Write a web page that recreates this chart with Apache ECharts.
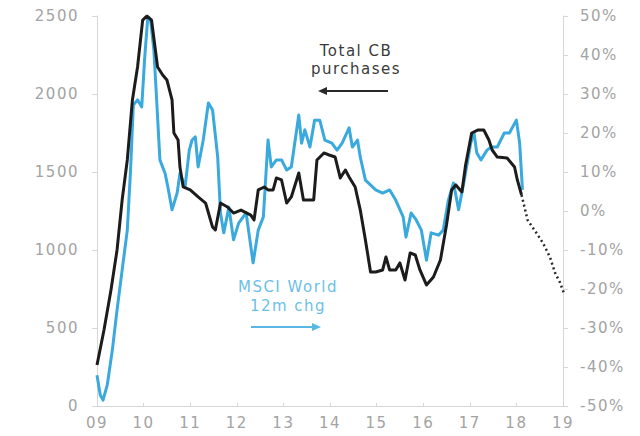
<!DOCTYPE html>
<html>
<head>
<meta charset="utf-8">
<script src="https://cdn.jsdelivr.net/npm/echarts@6/dist/echarts.min.js"></script>
<style>
  html, body { margin: 0; padding: 0; background: #ffffff; }
  #chart { width: 640px; height: 436px; }
  #chart text { letter-spacing: 1.5px; }
</style>
</head>
<body>
<div id="chart"></div>
<script>
// Tick labels for the year axis
const yearTicks = ['09', '10', '11', '12', '13', '14', '15', '16', '17', '18', '19'];

// Total central-bank purchases (left axis), x in decimal years
const cbYears = [2009.00, 2009.15, 2009.30, 2009.43, 2009.54, 2009.65, 2009.76, 2009.87, 2009.98, 2010.07,
  2010.17, 2010.30, 2010.41, 2010.50, 2010.61, 2010.65, 2010.74, 2010.78, 2010.85, 2011.00,
  2011.17, 2011.33, 2011.48, 2011.54, 2011.65, 2011.80, 2011.93, 2012.09, 2012.30, 2012.37,
  2012.46, 2012.59, 2012.67, 2012.78, 2012.85, 2012.96, 2013.07, 2013.17, 2013.33, 2013.43,
  2013.57, 2013.65, 2013.72, 2013.87, 2013.98, 2014.11, 2014.22, 2014.33, 2014.41, 2014.54,
  2014.65, 2014.76, 2014.87, 2014.98, 2015.13, 2015.20, 2015.28, 2015.41, 2015.50, 2015.61,
  2015.72, 2015.83, 2015.93, 2016.07, 2016.22, 2016.37, 2016.50, 2016.61, 2016.70, 2016.83,
  2016.91, 2017.04, 2017.17, 2017.30, 2017.41, 2017.48, 2017.59, 2017.80, 2017.96, 2018.02,
  2018.11];
const cbValues = [263, 487, 744, 1000, 1321, 1577, 1962, 2173, 2474, 2500,
  2474, 2173, 2122, 2090, 1962, 1750, 1705, 1532, 1404, 1385,
  1340, 1301, 1147, 1128, 1301, 1276, 1237, 1256, 1224, 1192,
  1385, 1404, 1385, 1385, 1462, 1449, 1301, 1340, 1494, 1321,
  1321, 1321, 1577, 1622, 1609, 1596, 1462, 1513, 1468, 1404,
  1256, 1064, 859, 859, 872, 955, 872, 872, 917, 808,
  981, 968, 872, 776, 827, 936, 1160, 1385, 1417, 1372,
  1545, 1750, 1769, 1769, 1705, 1641, 1596, 1590, 1532, 1449,
  1353];

// Projected purchases (dotted continuation)
const cbProjYears = [2018.11, 2018.24, 2018.43, 2018.57, 2018.72, 2018.83, 2018.93, 2019.02];
const cbProjValues = [1353, 1192, 1109, 1045, 955, 853, 795, 724];

// MSCI World, 12-month change in % (right axis)
const msciYears = [2009.00, 2009.07, 2009.13, 2009.22, 2009.33, 2009.43, 2009.54, 2009.65, 2009.72, 2009.78,
  2009.87, 2009.96, 2010.02, 2010.09, 2010.15, 2010.22, 2010.28, 2010.35, 2010.46, 2010.52,
  2010.61, 2010.72, 2010.78, 2010.89, 2010.98, 2011.04, 2011.11, 2011.17, 2011.28, 2011.39,
  2011.48, 2011.59, 2011.65, 2011.72, 2011.83, 2011.93, 2012.04, 2012.20, 2012.35, 2012.46,
  2012.57, 2012.67, 2012.74, 2012.85, 2012.96, 2013.07, 2013.17, 2013.33, 2013.39, 2013.46,
  2013.57, 2013.67, 2013.78, 2013.89, 2014.04, 2014.15, 2014.26, 2014.41, 2014.48, 2014.59,
  2014.65, 2014.76, 2014.98, 2015.13, 2015.28, 2015.41, 2015.57, 2015.63, 2015.74, 2015.85,
  2015.96, 2016.07, 2016.17, 2016.33, 2016.43, 2016.54, 2016.65, 2016.76, 2016.87, 2017.02,
  2017.09, 2017.15, 2017.24, 2017.37, 2017.46, 2017.59, 2017.74, 2017.85, 2018.00, 2018.07,
  2018.13];
const msciValues = [-42.1, -47.2, -48.5, -44.6, -35.6, -25.4, -15.1, -4.9, 10.5, 27.2,
  28.5, 26.7, 38.7, 49.7, 49.0, 41.3, 28.5, 13.1, 9.7, 6.2,
  0.3, 4.6, 9.7, 6.2, 15.6, 18.2, 19.0, 11.3, 18.2, 27.7,
  25.9, 13.8, -0.5, -5.6, 1.0, -7.4, -3.1, -0.5, -13.3, -4.9,
  -1.5, 18.2, 11.3, 13.1, 13.1, 10.5, 11.3, 24.6, 17.4, 20.8,
  16.4, 23.3, 23.3, 18.2, 17.4, 15.6, 17.4, 21.3, 16.4, 18.2,
  13.8, 7.9, 5.4, 4.6, 5.4, 2.8, -1.5, -6.7, -0.5, -2.3,
  -4.9, -12.6, -5.6, -6.2, -4.9, 2.8, 7.2, 0.3, 7.2, 17.4,
  20.0, 14.9, 13.1, 15.6, 16.4, 16.4, 20.0, 20.0, 23.3, 17.4,
  5.4];

const pairs = (xs, ys) => xs.map((x, i) => [x, ys[i]]);

const grey = '#a3a3a3';
const axisGrey = '#d6d6d6';
const blue = '#3aa9de';
const labelFont = { color: grey, fontSize: 15, fontFamily: 'DejaVu Sans' };

const chart = echarts.init(document.getElementById('chart'), null, { renderer: 'svg' });

chart.setOption({
  animation: false,
  backgroundColor: '#ffffff',
  grid: { left: 97, right: 77, top: 16, bottom: 30, containLabel: false },
  xAxis: {
    type: 'value',
    min: 2009, max: 2019, interval: 1,
    axisLine: { show: true, lineStyle: { color: axisGrey, width: 1 } },
    axisTick: { show: true, length: 3, inside: true, lineStyle: { color: axisGrey } },
    splitLine: { show: false },
    axisLabel: Object.assign({}, labelFont, {
      margin: 9,
      formatter: v => yearTicks[Math.round(v - 2009)]
    })
  },
  yAxis: [
    {
      type: 'value', position: 'left',
      min: 0, max: 2500, interval: 500,
      axisLine: { show: true, lineStyle: { color: axisGrey } },
      axisTick: { show: true, length: 5, lineStyle: { color: axisGrey } },
      splitLine: { show: false },
      axisLabel: Object.assign({}, labelFont, { margin: 18, formatter: v => String(v) })
    },
    {
      type: 'value', position: 'right',
      min: -50, max: 50, interval: 10,
      axisLine: { show: true, lineStyle: { color: axisGrey } },
      axisTick: { show: true, length: 5, lineStyle: { color: axisGrey } },
      splitLine: { show: false },
      axisLabel: Object.assign({}, labelFont, { margin: 17, formatter: v => v + '%' })
    }
  ],
  series: [
    {
      name: 'MSCI World 12m chg', type: 'line', yAxisIndex: 1,
      data: pairs(msciYears, msciValues),
      showSymbol: false, z: 2,
      lineStyle: { color: blue, width: 3, join: 'round' }
    },
    {
      name: 'Total CB purchases', type: 'line', yAxisIndex: 0,
      data: pairs(cbYears, cbValues),
      showSymbol: false, z: 3,
      lineStyle: { color: '#1c1c1c', width: 3, join: 'round' }
    },
    {
      name: 'Total CB purchases projection', type: 'line', yAxisIndex: 0,
      data: pairs(cbProjYears, cbProjValues),
      showSymbol: false, z: 3,
      lineStyle: { color: '#2a2a2a', width: 2.5, type: [2, 3] }
    }
  ],
  graphic: [
    {
      type: 'text', x: 356, y: 42,
      style: {
        text: 'Total CB\npurchases', fill: '#3a3a3a',
        font: '15px "DejaVu Sans"', align: 'center', lineHeight: 18
      }
    },
    {
      type: 'group', x: 318, y: 86,
      children: [
        { type: 'line', shape: { x1: 4, y1: 5, x2: 70, y2: 5 }, style: { stroke: '#2a2a2a', lineWidth: 2 } },
        { type: 'polygon', shape: { points: [[0, 5], [9, 1], [9, 9]] }, style: { fill: '#2a2a2a' } }
      ]
    },
    {
      type: 'text', x: 288, y: 277,
      style: {
        text: 'MSCI World\n12m chg', fill: '#6cc0e6',
        font: '15px "DejaVu Sans"', align: 'center', lineHeight: 19
      }
    },
    {
      type: 'group', x: 251, y: 322,
      children: [
        { type: 'line', shape: { x1: 0, y1: 5, x2: 64, y2: 5 }, style: { stroke: '#5ab6e2', lineWidth: 2 } },
        { type: 'polygon', shape: { points: [[70, 5], [61, 1], [61, 9]] }, style: { fill: '#5ab6e2' } }
      ]
    }
  ]
});
</script>
</body>
</html>
